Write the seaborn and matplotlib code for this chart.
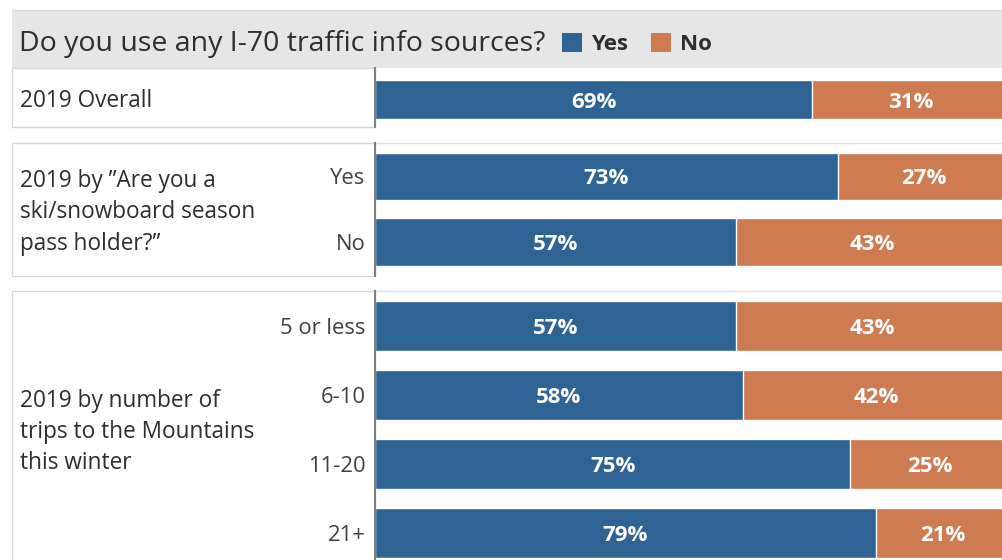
import matplotlib
matplotlib.use("Agg")
import matplotlib.pyplot as plt
from matplotlib.patches import Rectangle
from matplotlib.lines import Line2D
import seaborn as sns
import pandas as pd

# ---- data -------------------------------------------------------------
title = "Do you use any I-70 traffic info sources?"
series_names = ["Yes", "No"]

group_titles = [
    "2019 Overall",
    "2019 by \u201dAre you a\nski/snowboard season\npass holder?\u201d",
    "2019 by number of\ntrips to the Mountains\nthis winter",
]

overall_labels = ["2019 Overall"]
overall_yes = [69]
overall_no = [31]

pass_labels = ["Yes", "No"]
pass_yes = [73, 57]
pass_no = [27, 43]

trip_labels = ["5 or less", "6-10", "11-20", "21+"]
trip_yes = [57, 58, 75, 79]
trip_no = [43, 42, 25, 21]

# ---- styling ----------------------------------------------------------
sns.set_style("white")
plt.rcParams["font.family"] = ["Open Sans", "DejaVu Sans"]

BLUE = "#2f6394"
ORANGE = "#ce7b52"
TEXT = "#2e2e2e"
BOX_EDGE = "#d9d9d9"

W, H = 1002, 560
fig = plt.figure(figsize=(W / 100, H / 100), dpi=100)
fig.patch.set_facecolor("white")


def fx(px):
    return px / W


def fy(py):
    return 1 - py / H


# header band with title and legend
fig.add_artist(Rectangle((fx(12), fy(68)), fx(W - 12), (68 - 10) / H,
                         transform=fig.transFigure, fc="#e6e6e6", ec="none", zorder=0))
fig.add_artist(Line2D([fx(12), 1], [fy(10), fy(10)], transform=fig.transFigure,
                      color="#d6d6d6", lw=1, zorder=1))
fig.text(fx(19), fy(44.5), title, fontsize=20.5, color=TEXT, va="center", ha="left")

for name, color, sq_x, txt_x in [(series_names[0], BLUE, 562, 591),
                                  (series_names[1], ORANGE, 651, 680)]:
    fig.add_artist(Rectangle((fx(sq_x), fy(52)), fx(20), 19 / H,
                             transform=fig.transFigure, fc=color, ec="none", zorder=2))
    fig.text(fx(txt_x), fy(44), name, fontsize=16, fontweight="bold", color=TEXT,
             va="center", ha="left")

# panel layout: (title, labels, yes, no, top px, bottom px, ylim, show ticks, title y)
panels = [
    (group_titles[0], overall_labels, overall_yes, overall_no, 68, 127, (0.507, -0.581), False, 101),
    (group_titles[1], pass_labels, pass_yes, pass_no, 143, 276, (1.519, -0.511), True, 212.5),
    (group_titles[2], trip_labels, trip_yes, trip_no, 291, 560, (3.39, -0.507), True, 432),
]

AX_LEFT = 375
for gtitle, labels, yes, no, top, bottom, ylim, show_ticks, ty in panels:
    box_bottom = bottom if bottom < H else H + 20
    # label cell
    fig.add_artist(Rectangle((fx(12), fy(box_bottom)), fx(AX_LEFT - 12), (box_bottom - top) / H,
                             transform=fig.transFigure, fc="white", ec=BOX_EDGE, lw=1, zorder=0))
    if top > 100:
        fig.add_artist(Line2D([fx(AX_LEFT), 1], [fy(top), fy(top)], transform=fig.transFigure,
                              color="#e2e2e2", lw=1, zorder=0))
    fig.text(fx(20), fy(ty), gtitle, fontsize=16.3, color=TEXT, va="center", ha="left",
             linespacing=1.41)

    ax = fig.add_axes([fx(AX_LEFT), fy(bottom), fx(W - AX_LEFT), (bottom - top) / H])
    ax.set_zorder(3)
    ax.patch.set_alpha(0)

    df = pd.DataFrame({"group": labels, "yes": yes, "no": no})
    df["total"] = df["yes"] + df["no"]
    sns.barplot(data=df, x="total", y="group", color=ORANGE, saturation=1, width=0.72,
                errorbar=None, orient="h", ax=ax)
    sns.barplot(data=df, x="yes", y="group", color=BLUE, saturation=1, width=0.72,
                errorbar=None, orient="h", ax=ax)

    for i, (y_val, n_val) in enumerate(zip(yes, no)):
        ax.text(y_val / 2, i, f"{y_val}%", color="white", fontsize=16, fontweight="bold",
                ha="center", va="center_baseline")
        ax.text(y_val + n_val / 2, i, f"{n_val}%", color="white", fontsize=16,
                fontweight="bold", ha="center", va="center_baseline")

    ax.set_xlim(0, 98.9)
    ax.set_ylim(*ylim)
    ax.set_xticks([])
    ax.set_xlabel("")
    ax.set_ylabel("")
    for s in ("top", "right", "bottom"):
        ax.spines[s].set_visible(False)
    ax.spines["left"].set_color("#808080")
    ax.spines["left"].set_linewidth(1.5)
    ax.tick_params(axis="y", length=0, pad=7, labelsize=15.8, labelcolor="#404040")
    if not show_ticks:
        ax.set_yticklabels([])

fig.savefig("out.png", dpi=100)
